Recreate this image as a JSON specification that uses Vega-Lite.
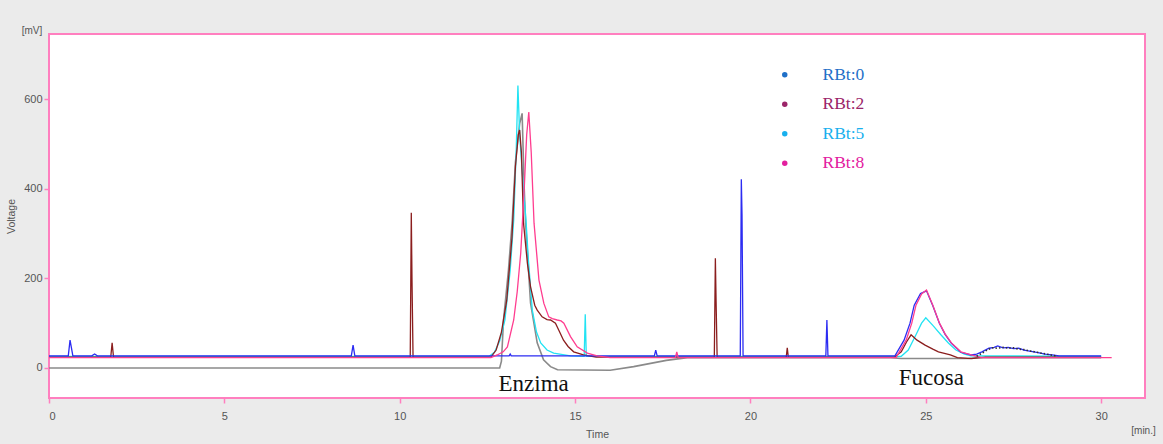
{
  "$schema": "https://vega.github.io/schema/vega-lite/v6.json",
  "width": 1096,
  "height": 364,
  "autosize": {"type": "none"},
  "padding": {"left": 49, "top": 34, "right": 18, "bottom": 46},
  "background": "#ebebeb",
  "config": {
    "view": {"fill": "white", "stroke": "#ff7fbf", "strokeWidth": 2},
    "axis": {
      "domain": false, "grid": false,
      "tickColor": "#ff7fbf", "tickWidth": 1.5, "tickSize": 5,
      "labelFont": "Liberation Sans", "labelFontSize": 11, "labelColor": "#555555",
      "titleFont": "Liberation Sans", "titleFontSize": 10.5, "titleFontWeight": "normal", "titleColor": "#555555"
    }
  },
  "datasets": {
    "curvas": [
      {"s": "Blanco", "t": 0, "v": 0}, {"s": "Blanco", "t": 12.85, "v": 0}, {"s": "Blanco", "t": 12.9, "v": 15}, {"s": "Blanco", "t": 12.96, "v": 107}, {"s": "Blanco", "t": 13.1, "v": 218}, {"s": "Blanco", "t": 13.21, "v": 330}, {"s": "Blanco", "t": 13.3, "v": 460}, {"s": "Blanco", "t": 13.42, "v": 545}, {"s": "Blanco", "t": 13.49, "v": 568}, {"s": "Blanco", "t": 13.55, "v": 400}, {"s": "Blanco", "t": 13.59, "v": 323}, {"s": "Blanco", "t": 13.73, "v": 145}, {"s": "Blanco", "t": 13.92, "v": 56}, {"s": "Blanco", "t": 14.1, "v": 18}, {"s": "Blanco", "t": 14.3, "v": 3}, {"s": "Blanco", "t": 14.5, "v": -4}, {"s": "Blanco", "t": 16.0, "v": -5}, {"s": "Blanco", "t": 16.67, "v": 3}, {"s": "Blanco", "t": 17.6, "v": 17}, {"s": "Blanco", "t": 18.2, "v": 23}, {"s": "Blanco", "t": 24.0, "v": 23}, {"s": "Blanco", "t": 24.3, "v": 21}, {"s": "Blanco", "t": 26.2, "v": 21}, {"s": "Blanco", "t": 26.5, "v": 23}, {"s": "Blanco", "t": 30.0, "v": 23},

      {"s": "RBt:0", "t": 0, "v": 27}, {"s": "RBt:0", "t": 0.55, "v": 27}, {"s": "RBt:0", "t": 0.6, "v": 62}, {"s": "RBt:0", "t": 0.64, "v": 45}, {"s": "RBt:0", "t": 0.68, "v": 27}, {"s": "RBt:0", "t": 1.22, "v": 27}, {"s": "RBt:0", "t": 1.3, "v": 31}, {"s": "RBt:0", "t": 1.38, "v": 27}, {"s": "RBt:0", "t": 8.62, "v": 27}, {"s": "RBt:0", "t": 8.67, "v": 51}, {"s": "RBt:0", "t": 8.72, "v": 27}, {"s": "RBt:0", "t": 13.12, "v": 27}, {"s": "RBt:0", "t": 13.15, "v": 31}, {"s": "RBt:0", "t": 13.18, "v": 27}, {"s": "RBt:0", "t": 17.26, "v": 27}, {"s": "RBt:0", "t": 17.3, "v": 40}, {"s": "RBt:0", "t": 17.34, "v": 27}, {"s": "RBt:0", "t": 19.71, "v": 27}, {"s": "RBt:0", "t": 19.74, "v": 421}, {"s": "RBt:0", "t": 19.76, "v": 340}, {"s": "RBt:0", "t": 19.79, "v": 27}, {"s": "RBt:0", "t": 22.15, "v": 27}, {"s": "RBt:0", "t": 22.18, "v": 107}, {"s": "RBt:0", "t": 22.21, "v": 27}, {"s": "RBt:0", "t": 24.12, "v": 27}, {"s": "RBt:0", "t": 24.38, "v": 62}, {"s": "RBt:0", "t": 24.55, "v": 100}, {"s": "RBt:0", "t": 24.67, "v": 140}, {"s": "RBt:0", "t": 24.85, "v": 166}, {"s": "RBt:0", "t": 25.02, "v": 172}, {"s": "RBt:0", "t": 25.2, "v": 139}, {"s": "RBt:0", "t": 25.39, "v": 99}, {"s": "RBt:0", "t": 25.55, "v": 75}, {"s": "RBt:0", "t": 25.73, "v": 55}, {"s": "RBt:0", "t": 26.0, "v": 35}, {"s": "RBt:0", "t": 26.29, "v": 29}, {"s": "RBt:0", "t": 26.45, "v": 31}, {"s": "RBt:0", "t": 26.6, "v": 36}, {"s": "RBt:0", "t": 26.8, "v": 44}, {"s": "RBt:0", "t": 26.95, "v": 46}, {"s": "RBt:0", "t": 27.05, "v": 49}, {"s": "RBt:0", "t": 27.2, "v": 45}, {"s": "RBt:0", "t": 27.35, "v": 46}, {"s": "RBt:0", "t": 27.5, "v": 43}, {"s": "RBt:0", "t": 27.65, "v": 44}, {"s": "RBt:0", "t": 27.8, "v": 40}, {"s": "RBt:0", "t": 28.0, "v": 37}, {"s": "RBt:0", "t": 28.2, "v": 34}, {"s": "RBt:0", "t": 28.4, "v": 31}, {"s": "RBt:0", "t": 28.6, "v": 29}, {"s": "RBt:0", "t": 28.8, "v": 27}, {"s": "RBt:0", "t": 30.0, "v": 27},

      {"s": "RBt:2", "t": 0, "v": 24}, {"s": "RBt:2", "t": 1.76, "v": 24}, {"s": "RBt:2", "t": 1.8, "v": 56}, {"s": "RBt:2", "t": 1.84, "v": 24}, {"s": "RBt:2", "t": 10.3, "v": 24}, {"s": "RBt:2", "t": 10.33, "v": 346}, {"s": "RBt:2", "t": 10.35, "v": 196}, {"s": "RBt:2", "t": 10.38, "v": 24}, {"s": "RBt:2", "t": 12.6, "v": 24}, {"s": "RBt:2", "t": 12.75, "v": 40}, {"s": "RBt:2", "t": 12.9, "v": 80}, {"s": "RBt:2", "t": 13.05, "v": 150}, {"s": "RBt:2", "t": 13.2, "v": 290}, {"s": "RBt:2", "t": 13.3, "v": 450}, {"s": "RBt:2", "t": 13.38, "v": 520}, {"s": "RBt:2", "t": 13.42, "v": 531}, {"s": "RBt:2", "t": 13.47, "v": 480}, {"s": "RBt:2", "t": 13.53, "v": 323}, {"s": "RBt:2", "t": 13.64, "v": 234}, {"s": "RBt:2", "t": 13.73, "v": 181}, {"s": "RBt:2", "t": 13.85, "v": 140}, {"s": "RBt:2", "t": 13.92, "v": 129}, {"s": "RBt:2", "t": 14.06, "v": 114}, {"s": "RBt:2", "t": 14.2, "v": 108}, {"s": "RBt:2", "t": 14.3, "v": 107}, {"s": "RBt:2", "t": 14.44, "v": 100}, {"s": "RBt:2", "t": 14.55, "v": 82}, {"s": "RBt:2", "t": 14.67, "v": 62}, {"s": "RBt:2", "t": 14.8, "v": 48}, {"s": "RBt:2", "t": 14.96, "v": 36}, {"s": "RBt:2", "t": 15.24, "v": 29}, {"s": "RBt:2", "t": 15.6, "v": 24}, {"s": "RBt:2", "t": 18.97, "v": 24}, {"s": "RBt:2", "t": 19.0, "v": 245}, {"s": "RBt:2", "t": 19.02, "v": 150}, {"s": "RBt:2", "t": 19.05, "v": 24}, {"s": "RBt:2", "t": 21.02, "v": 24}, {"s": "RBt:2", "t": 21.05, "v": 45}, {"s": "RBt:2", "t": 21.08, "v": 24}, {"s": "RBt:2", "t": 24.1, "v": 24}, {"s": "RBt:2", "t": 24.3, "v": 36}, {"s": "RBt:2", "t": 24.45, "v": 58}, {"s": "RBt:2", "t": 24.58, "v": 74}, {"s": "RBt:2", "t": 24.75, "v": 62}, {"s": "RBt:2", "t": 24.98, "v": 51}, {"s": "RBt:2", "t": 25.2, "v": 42}, {"s": "RBt:2", "t": 25.36, "v": 36}, {"s": "RBt:2", "t": 25.7, "v": 29}, {"s": "RBt:2", "t": 25.9, "v": 23}, {"s": "RBt:2", "t": 26.3, "v": 21}, {"s": "RBt:2", "t": 26.7, "v": 24}, {"s": "RBt:2", "t": 30.0, "v": 24},

      {"s": "RBt:5", "t": 0, "v": 26}, {"s": "RBt:5", "t": 12.55, "v": 26}, {"s": "RBt:5", "t": 12.7, "v": 35}, {"s": "RBt:5", "t": 12.85, "v": 60}, {"s": "RBt:5", "t": 13.0, "v": 107}, {"s": "RBt:5", "t": 13.15, "v": 218}, {"s": "RBt:5", "t": 13.25, "v": 330}, {"s": "RBt:5", "t": 13.32, "v": 480}, {"s": "RBt:5", "t": 13.37, "v": 630}, {"s": "RBt:5", "t": 13.42, "v": 520}, {"s": "RBt:5", "t": 13.5, "v": 430}, {"s": "RBt:5", "t": 13.6, "v": 330}, {"s": "RBt:5", "t": 13.67, "v": 240}, {"s": "RBt:5", "t": 13.78, "v": 129}, {"s": "RBt:5", "t": 13.9, "v": 80}, {"s": "RBt:5", "t": 14.02, "v": 56}, {"s": "RBt:5", "t": 14.2, "v": 40}, {"s": "RBt:5", "t": 14.39, "v": 33}, {"s": "RBt:5", "t": 14.87, "v": 27}, {"s": "RBt:5", "t": 15.26, "v": 26}, {"s": "RBt:5", "t": 15.29, "v": 120}, {"s": "RBt:5", "t": 15.32, "v": 26}, {"s": "RBt:5", "t": 24.3, "v": 26}, {"s": "RBt:5", "t": 24.5, "v": 40}, {"s": "RBt:5", "t": 24.72, "v": 74}, {"s": "RBt:5", "t": 24.88, "v": 100}, {"s": "RBt:5", "t": 25.0, "v": 112}, {"s": "RBt:5", "t": 25.2, "v": 95}, {"s": "RBt:5", "t": 25.43, "v": 74}, {"s": "RBt:5", "t": 25.65, "v": 55}, {"s": "RBt:5", "t": 25.86, "v": 40}, {"s": "RBt:5", "t": 26.1, "v": 31}, {"s": "RBt:5", "t": 26.29, "v": 27}, {"s": "RBt:5", "t": 30.0, "v": 26},

      {"s": "RBt:8", "t": 0, "v": 23}, {"s": "RBt:8", "t": 12.6, "v": 23}, {"s": "RBt:8", "t": 12.78, "v": 29}, {"s": "RBt:8", "t": 12.95, "v": 36}, {"s": "RBt:8", "t": 13.07, "v": 47}, {"s": "RBt:8", "t": 13.25, "v": 107}, {"s": "RBt:8", "t": 13.35, "v": 170}, {"s": "RBt:8", "t": 13.45, "v": 256}, {"s": "RBt:8", "t": 13.55, "v": 400}, {"s": "RBt:8", "t": 13.62, "v": 520}, {"s": "RBt:8", "t": 13.68, "v": 571}, {"s": "RBt:8", "t": 13.75, "v": 480}, {"s": "RBt:8", "t": 13.83, "v": 323}, {"s": "RBt:8", "t": 13.97, "v": 196}, {"s": "RBt:8", "t": 14.11, "v": 144}, {"s": "RBt:8", "t": 14.25, "v": 114}, {"s": "RBt:8", "t": 14.35, "v": 110}, {"s": "RBt:8", "t": 14.49, "v": 107}, {"s": "RBt:8", "t": 14.6, "v": 105}, {"s": "RBt:8", "t": 14.68, "v": 100}, {"s": "RBt:8", "t": 14.87, "v": 70}, {"s": "RBt:8", "t": 15.06, "v": 47}, {"s": "RBt:8", "t": 15.35, "v": 33}, {"s": "RBt:8", "t": 15.63, "v": 27}, {"s": "RBt:8", "t": 16.0, "v": 23}, {"s": "RBt:8", "t": 17.86, "v": 23}, {"s": "RBt:8", "t": 17.9, "v": 36}, {"s": "RBt:8", "t": 17.94, "v": 23}, {"s": "RBt:8", "t": 24.15, "v": 23}, {"s": "RBt:8", "t": 24.44, "v": 62}, {"s": "RBt:8", "t": 24.6, "v": 100}, {"s": "RBt:8", "t": 24.72, "v": 140}, {"s": "RBt:8", "t": 24.88, "v": 165}, {"s": "RBt:8", "t": 25.02, "v": 174}, {"s": "RBt:8", "t": 25.2, "v": 140}, {"s": "RBt:8", "t": 25.39, "v": 100}, {"s": "RBt:8", "t": 25.55, "v": 76}, {"s": "RBt:8", "t": 25.73, "v": 56}, {"s": "RBt:8", "t": 26.0, "v": 36}, {"s": "RBt:8", "t": 26.29, "v": 29}, {"s": "RBt:8", "t": 26.6, "v": 23}, {"s": "RBt:8", "t": 30.3, "v": 23},

      {"s": "Blanco-b", "t": 26.45, "v": 26}, {"s": "Blanco-b", "t": 26.6, "v": 33}, {"s": "Blanco-b", "t": 26.75, "v": 40}, {"s": "Blanco-b", "t": 26.9, "v": 45}, {"s": "Blanco-b", "t": 27.05, "v": 44}, {"s": "Blanco-b", "t": 27.2, "v": 46}, {"s": "Blanco-b", "t": 27.35, "v": 44}, {"s": "Blanco-b", "t": 27.5, "v": 45}, {"s": "Blanco-b", "t": 27.65, "v": 42}, {"s": "Blanco-b", "t": 27.8, "v": 41}, {"s": "Blanco-b", "t": 27.95, "v": 38}, {"s": "Blanco-b", "t": 28.1, "v": 36}, {"s": "Blanco-b", "t": 28.3, "v": 33}, {"s": "Blanco-b", "t": 28.5, "v": 30}, {"s": "Blanco-b", "t": 28.7, "v": 27}
    ],
    "rotulos": [
      {"label": "Enzima", "t": 13.82, "v": -51},
      {"label": "Fucosa", "t": 25.16, "v": -39}
    ],
    "unidades": [
      {"label": "[mV]", "t": 0, "v": 745},
      {"label": "[min.]", "t": 31.25, "v": -67}
    ]
  },
  "data": {"name": "curvas"},
  "encoding": {
    "x": {"field": "t", "type": "quantitative", "scale": {"domain": [0, 31.25], "nice": false, "zero": false},
      "axis": {"title": "Time", "values": [0, 5, 10, 15, 20, 25, 30], "labelPadding": 7, "titlePadding": 8}},
    "y": {"field": "v", "type": "quantitative", "scale": {"domain": [-67, 745], "nice": false, "zero": false},
      "axis": {"title": "Voltage", "values": [0, 200, 400, 600], "labelPadding": 2, "titlePadding": 7}}
  },
  "layer": [
    {
      "transform": [{"filter": "datum.s === 'Blanco'"}],
      "mark": {"type": "line", "color": "#8a8a8a", "strokeWidth": 1.6}
    },
    {
      "transform": [{"filter": "datum.s === 'RBt:5'"}],
      "mark": {"type": "line", "strokeWidth": 1.3},
      "encoding": {
        "color": {"field": "s", "type": "nominal",
          "scale": {"domain": ["RBt:0", "RBt:2", "RBt:5", "RBt:8"], "range": ["#2c2cf2", "#8b1e1e", "#22e3f3", "#ff3d8f"]},
          "legend": {
            "orient": "none", "legendX": 727, "legendY": 32, "title": null, "padding": 0,
            "symbolType": "circle", "symbolSize": 30, "symbolStrokeWidth": 0,
            "symbolFillColor": {"expr": "datum.value==='RBt:0'?'#1f70c8':datum.value==='RBt:2'?'#9b2569':datum.value==='RBt:5'?'#18b0ee':'#e3209f'"},
            "labelFont": "Liberation Serif", "labelFontSize": 17.5, "labelOffset": 29, "rowPadding": 10.5,
            "labelColor": {"expr": "datum.value==='RBt:0'?'#1f70c8':datum.value==='RBt:2'?'#9b2569':datum.value==='RBt:5'?'#18b0ee':'#e3209f'"}
          }
        }
      }
    },
    {
      "transform": [{"filter": "datum.s === 'RBt:2'"}],
      "mark": {"type": "line", "strokeWidth": 1.3},
      "encoding": {"color": {"field": "s", "type": "nominal"}}
    },
    {
      "transform": [{"filter": "datum.s === 'RBt:0'"}],
      "mark": {"type": "line", "strokeWidth": 1.3},
      "encoding": {"color": {"field": "s", "type": "nominal"}}
    },
    {
      "transform": [{"filter": "datum.s === 'RBt:8'"}],
      "mark": {"type": "line", "strokeWidth": 1.3},
      "encoding": {"color": {"field": "s", "type": "nominal"}}
    },
    {
      "transform": [{"filter": "datum.s === 'Blanco-b'"}],
      "mark": {"type": "line", "color": "#333333", "strokeWidth": 1.6, "strokeDash": [1.5, 2]}
    },
    {
      "data": {"name": "rotulos"},
      "mark": {"type": "text", "font": "Liberation Serif", "fontSize": 23, "color": "#111111", "align": "center", "baseline": "alphabetic"},
      "encoding": {"text": {"field": "label"}}
    },
    {
      "data": {"name": "unidades"},
      "transform": [{"filter": "datum.label === '[mV]'"}],
      "mark": {"type": "text", "font": "Liberation Sans", "fontSize": 10, "color": "#555555", "align": "center", "baseline": "middle", "dx": -17, "dy": -3},
      "encoding": {"text": {"field": "label"}}
    },
    {
      "data": {"name": "unidades"},
      "transform": [{"filter": "datum.label === '[min.]'"}],
      "mark": {"type": "text", "font": "Liberation Sans", "fontSize": 10, "color": "#555555", "align": "center", "baseline": "middle", "dx": -1.5, "dy": 33},
      "encoding": {"text": {"field": "label"}}
    }
  ]
}
